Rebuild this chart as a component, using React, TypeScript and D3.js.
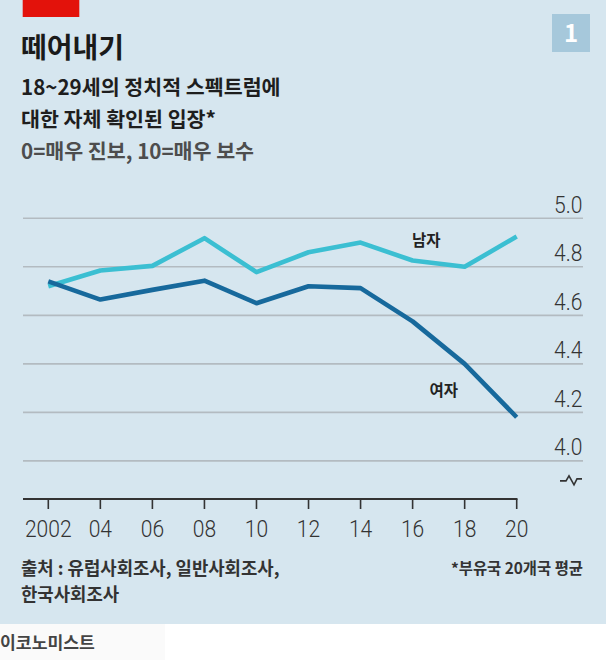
import React from "react";
import * as d3 from "d3";

const years = [2002, 2004, 2006, 2008, 2010, 2012, 2014, 2016, 2018, 2020];
const men = [4.72, 4.785, 4.804, 4.918, 4.778, 4.86, 4.9, 4.826, 4.8, 4.925];
const women = [4.74, 4.665, 4.705, 4.743, 4.65, 4.72, 4.712, 4.575, 4.4, 4.18];
const yTicks = [4.0, 4.2, 4.4, 4.6, 4.8, 5.0];
const xTickLabels = ["2002", "04", "06", "08", "10", "12", "14", "16", "18", "20"];

const W = 606;
const H = 660;
const KR = "'Noto Sans CJK KR', 'Noto Sans', sans-serif";
const NUM = "Roboto, 'Liberation Sans', sans-serif";
const SX = 0.86;

export default function App() {
  const x = d3.scaleLinear().domain([2002, 2020]).range([48.3, 516.7]);
  const y = d3.scaleLinear().domain([4.0, 5.0]).range([460.9, 218.3]);
  const line = d3
    .line<number>()
    .x((_, i) => x(years[i]))
    .y((d) => y(d));
  const axisY = 499;
  const y0 = y(4.0);
  const bx = 560;
  const by = y0 + 20;

  return (
    <svg
      width={W}
      height={H}
      style={{ position: "absolute", left: 0, top: 0, display: "block" }}
    >
      <rect x={0} y={0} width={W} height={H} fill="#ffffff" />
      <rect x={0} y={0} width={W} height={624} fill="#d6e6ef" />
      <rect x={0} y={624} width={165} height={36} fill="#fafafa" />
      <rect x={22.7} y={0} width={56.6} height={17} fill="#e3120b" />
      <rect x={552} y={14} width={38} height={38} fill="#a6c8db" />
      <text
        x={571}
        y={42}
        textAnchor="middle"
        fill="#ffffff"
        fontFamily={KR}
        fontWeight={700}
        fontSize={24}
      >
        1
      </text>

      <text x={21} y={58} fill="#1a1a1a" fontFamily={KR} fontWeight={700} fontSize={28}>
        떼어내기
      </text>
      <text x={21} y={95} fill="#1e1e1e" fontFamily={KR} fontWeight={700} fontSize={20.6}>
        18~29세의 정치적 스펙트럼에
      </text>
      <text x={21} y={127} fill="#1e1e1e" fontFamily={KR} fontWeight={700} fontSize={20.6}>
        대한 자체 확인된 입장*
      </text>
      <text x={21} y={159} fill="#4d4d4d" fontFamily={KR} fontWeight={700} fontSize={20.6}>
        0=매우 진보, 10=매우 보수
      </text>

      {yTicks.map((t) => (
        <g key={t}>
          <line x1={23} x2={583} y1={y(t)} y2={y(t)} stroke="#b3bbc1" strokeWidth={1.6} />
          <text
            transform={`translate(582.5,${y(t) - 5.5}) scale(${SX},1)`}
            textAnchor="end"
            fill="#333"
            fontFamily={NUM}
            fontWeight={300}
            fontSize={24.5}
          >
            {t.toFixed(1)}
          </text>
        </g>
      ))}

      <path
        d={`M${bx},${by} h6 l3,-5 l5,9 l3,-6 h5`}
        fill="none"
        stroke="#333"
        strokeWidth={1.6}
        strokeLinejoin="miter"
      />

      <line x1={23} x2={x(2020) + 0.8} y1={axisY} y2={axisY} stroke="#333" strokeWidth={1.8} />
      {years.map((yr, i) => (
        <g key={yr}>
          <line x1={x(yr)} x2={x(yr)} y1={axisY} y2={axisY + 10} stroke="#333" strokeWidth={1.6} />
          <text
            transform={`translate(${x(yr)},537) scale(${SX},1)`}
            textAnchor="middle"
            fill="#333"
            fontFamily={NUM}
            fontWeight={300}
            fontSize={24.5}
          >
            {xTickLabels[i]}
          </text>
        </g>
      ))}

      <path
        d={line(men) ?? ""}
        fill="none"
        stroke="#3bbfd2"
        strokeWidth={4.6}
        strokeLinejoin="round"
      />
      <path
        d={line(women) ?? ""}
        fill="none"
        stroke="#17699c"
        strokeWidth={4.6}
        strokeLinejoin="round"
      />

      <text x={412} y={246} fill="#222" fontFamily={KR} fontWeight={700} fontSize={15.5}>
        남자
      </text>
      <text x={429.5} y={396} fill="#222" fontFamily={KR} fontWeight={700} fontSize={15.5}>
        여자
      </text>

      <text x={21} y={575} fill="#333" fontFamily={KR} fontWeight={700} fontSize={17.8}>
        출처 : 유럽사회조사, 일반사회조사,
      </text>
      <text x={21} y={601} fill="#333" fontFamily={KR} fontWeight={700} fontSize={17.8}>
        한국사회조사
      </text>
      <text
        x={583}
        y={574}
        textAnchor="end"
        fill="#333"
        fontFamily={KR}
        fontWeight={700}
        fontSize={15.4}
      >
        *부유국 20개국 평균
      </text>

      <text x={0} y={649} fill="#444" fontFamily={KR} fontWeight={700} fontSize={17.2}>
        이코노미스트
      </text>
    </svg>
  );
}
